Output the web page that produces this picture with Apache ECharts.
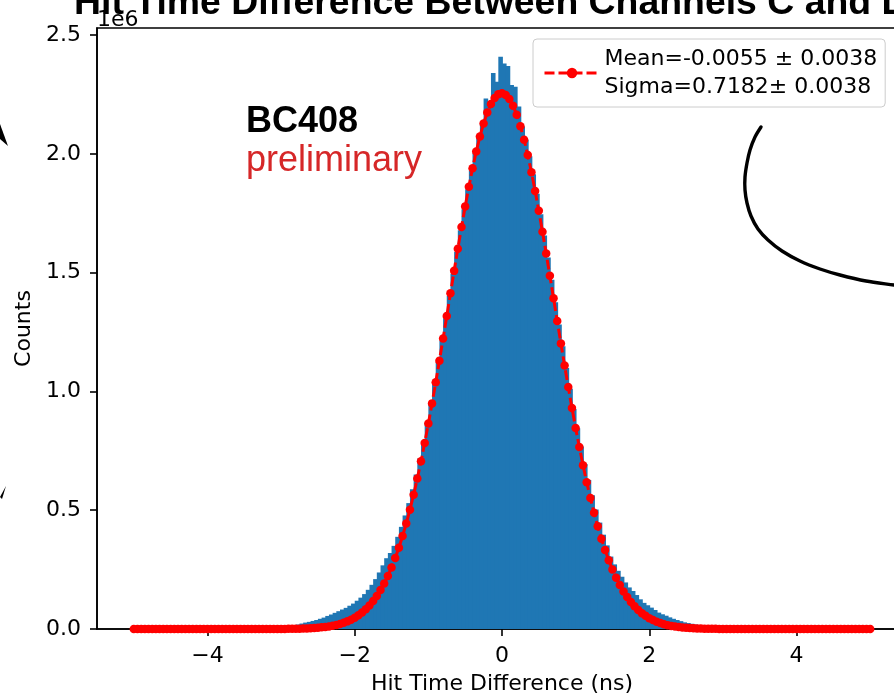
<!DOCTYPE html>
<html>
<head>
<meta charset="utf-8">
<script src="https://cdn.jsdelivr.net/npm/echarts@6/dist/echarts.min.js"></script>
<style>html,body{margin:0;padding:0;background:#fff;overflow:hidden}#c{width:920px;height:696px}</style>
</head>
<body>
<div id="c"></div>
<script>
// ---- data (counts in units of 1e6) ----
const titleText = 'Hit Time Difference Between Channels C and D';
const xAxisTitle = 'Hit Time Difference (ns)';
const yAxisTitle = 'Counts';
const offsetText = '1e6';
const labelMain = 'BC408';
const labelSub = 'preliminary';
const legendLines = ['Mean=-0.0055 \u00b1 0.0038', 'Sigma=0.7182\u00b1 0.0038'];
const xTicks = [-4, -2, 0, 2, 4];
const yTicks = [0, 0.5, 1, 1.5, 2, 2.5];

// histogram: bins of width 0.05 starting at -3.5
const histStart = -3.5;
const binWidth = 0.05;
const histCounts = [
  0.001,0.001,0.001,0.002,0.002,0.002,0.003,0.003,0.004,0.005,
  0.006,0.008,0.011,0.015,0.019,0.023,0.027,0.030,0.034,0.038,
  0.043,0.048,0.055,0.061,0.068,0.075,0.082,0.089,0.098,0.107,
  0.119,0.132,0.147,0.165,0.186,0.210,0.238,0.268,0.298,0.320,
  0.350,0.388,0.430,0.478,0.530,0.588,0.650,0.718,0.790,0.868,
  0.950,1.035,1.124,1.215,1.308,1.402,1.495,1.588,1.679,1.767,
  1.851,1.930,2.004,2.072,2.131,2.233,2.205,2.341,2.304,2.409,
  2.381,2.370,2.290,2.283,2.200,2.115,2.060,1.990,1.914,1.832,
  1.746,1.656,1.564,1.470,1.376,1.282,1.190,1.099,1.011,0.926,
  0.845,0.768,0.695,0.627,0.563,0.503,0.448,0.397,0.352,0.305,
  0.272,0.245,0.220,0.196,0.175,0.160,0.143,0.125,0.110,0.100,
  0.090,0.080,0.069,0.062,0.056,0.049,0.043,0.038,0.033,0.028,
  0.025,0.022,0.019,0.017,0.015,0.013,0.011,0.009,0.007,0.006,
  0.005,0.004,0.003,0.003,0.002,0.002,0.002,0.001,0.001,0.001
];

// gaussian fit samples from -5 to 5, step 0.05
const fitStart = -5;
const fitStep = 0.05;
const fitValues = [
  0,0,0,0,0,0,0,0,0,0,0,0,0,0,0,0,0,0,0,0,0,0,0,0,0,0,0,0,0,0,0,0,0,0,0,0,
  0.0001,0.0001,0.0002,0.0003,0.0004,0.0005,0.0006,0.0009,0.0012,0.0015,
  0.0020,0.0026,0.0033,0.0042,0.0054,0.0069,0.0087,0.0109,0.0137,0.0171,
  0.0212,0.0261,0.0321,0.0388,0.0477,0.0577,0.0695,0.0833,0.0994,0.1180,
  0.1394,0.1639,0.1918,0.2232,0.2588,0.2984,0.3424,0.3910,0.4443,0.5025,
  0.5656,0.6335,0.7061,0.7832,0.8646,0.9498,1.0383,1.1296,1.2230,1.3177,
  1.4129,1.5076,1.6009,1.6918,1.7791,1.8620,1.9392,2.0100,2.0732,2.1280,
  2.1738,2.2098,2.2356,2.2507,
  2.2549,
  2.2483,2.2308,2.2028,2.1646,2.1167,2.0599,1.9950,1.9228,1.8442,1.7603,
  1.6720,1.5806,1.4869,1.3920,1.2968,1.2023,1.1093,1.0185,0.9307,0.8464,
  0.7658,0.6897,0.6181,0.5513,0.4893,0.4322,0.3799,0.3323,0.2893,0.2506,
  0.2160,0.1854,0.1583,0.1345,0.1137,0.0957,0.0801,0.0668,0.0554,0.0457,
  0.0375,0.0307,0.0250,0.0202,0.0163,0.0131,0.0104,0.0083,0.0065,0.0051,
  0.0040,0.0031,0.0024,0.0019,0.0014,0.0011,0.0008,0.0006,0.0004,0.0003,
  0.0002,0.0002,0.0001,0.0001,
  0,0,0,0,0,0,0,0,0,0,0,0,0,0,0,0,0,0,0,0,0,0,0,0,0,0,0,0,0,0,0,0,0,0,0,0
];

// ---- build ----
const histData = histCounts.map((c, i) => [
  +(histStart + i * binWidth).toFixed(3),
  +(histStart + (i + 1) * binWidth).toFixed(3),
  c
]);
const fitData = fitValues.map((v, i) => [+(fitStart + i * fitStep).toFixed(3), v]);
const fitName = legendLines.join('\n');
const FONT = 'DejaVu Sans';
const fmtTick = v => (v < 0 ? '\u2212' + Math.abs(v) : String(v));

const chart = echarts.init(document.getElementById('c'), null, {renderer: 'canvas'});
chart.setOption({
  animation: false,
  backgroundColor: '#ffffff',
  title: {
    text: titleText,
    left: 74,
    top: -15,
    padding: 0,
    textStyle: {fontFamily: 'Liberation Sans', fontWeight: 'bold', fontSize: 37.4, color: '#000'}
  },
  grid: {
    left: 97, top: 28, right: 13, bottom: 67,
    show: true, borderColor: '#000', borderWidth: 1.6, backgroundColor: 'transparent',
    containLabel: false,
    outerBoundsMode: 'none'
  },
  legend: {
    data: [fitName],
    left: 533, top: 39,
    orient: 'vertical',
    padding: [6, 8, 6, 10],
    itemWidth: 55, itemHeight: 13,
    backgroundColor: 'rgba(255,255,255,0.85)',
    borderColor: '#cccccc', borderWidth: 1, borderRadius: 4,
    lineStyle: {width: 3},
    textStyle: {fontFamily: FONT, fontSize: 22, lineHeight: 28, color: '#000'}
  },
  xAxis: {
    type: 'value', min: -5.5, max: 5.5,
    name: xAxisTitle, nameLocation: 'middle', nameGap: 44,
    nameTextStyle: {fontFamily: FONT, fontSize: 22, color: '#000'},
    axisLine: {show: true, onZero: false, lineStyle: {color: '#000', width: 1.6}},
    axisTick: {show: true, length: 7, inside: false, customValues: xTicks, lineStyle: {color: '#000', width: 1.6}},
    axisLabel: {customValues: xTicks, margin: 16, fontFamily: FONT, fontSize: 22, color: '#000', formatter: fmtTick},
    splitLine: {show: false}
  },
  yAxis: {
    type: 'value', min: 0, max: 2.53,
    name: yAxisTitle, nameLocation: 'middle', nameGap: 61,
    nameTextStyle: {fontFamily: FONT, fontSize: 22, color: '#000'},
    axisLine: {show: true, onZero: false, lineStyle: {color: '#000', width: 1.6}},
    axisTick: {show: true, length: 7, inside: false, customValues: yTicks, lineStyle: {color: '#000', width: 1.6}},
    axisLabel: {customValues: yTicks, margin: 16, fontFamily: FONT, fontSize: 22, color: '#000', formatter: v => v.toFixed(1)},
    splitLine: {show: false}
  },
  series: [
    {
      type: 'custom',
      name: 'hist',
      data: histData,
      encode: {x: [0, 1], y: 2},
      clip: true,
      z: 2,
      renderItem: function (params, api) {
        const x0 = api.value(0), x1 = api.value(1), y = api.value(2);
        const p0 = api.coord([x0, y]);
        const p1 = api.coord([x1, 0]);
        return {
          type: 'rect',
          shape: {x: p0[0], y: p0[1], width: p1[0] - p0[0] + 0.9, height: p1[1] - p0[1]},
          style: {fill: '#1f77b4'}
        };
      }
    },
    {
      type: 'line',
      name: fitName,
      data: fitData,
      z: 5,
      showSymbol: true,
      showAllSymbol: true,
      symbol: 'circle',
      symbolSize: 8.5,
      itemStyle: {color: '#ff0000', borderWidth: 0},
      lineStyle: {color: '#ff0000', width: 3, type: [10, 4]},
      clip: false
    }
  ],
  graphic: [
    {type: 'text', left: 97, top: 9, z: 10,
     style: {text: offsetText, font: '22px "DejaVu Sans"', fill: '#000'}},
    {type: 'text', left: 246, top: 104, z: 10,
     style: {text: labelMain, font: 'bold 36px "Liberation Sans"', fill: '#000'}},
    {type: 'text', left: 246, top: 143, z: 10,
     style: {text: labelSub, font: '36px "Liberation Sans"', fill: '#d62728'}},
    {type: 'polyline', z: 10,
     shape: {points: [[761,127],[755,137],[750,150],[747,163],[745,177],[745,190],[747,203],[751,216],[758,229],[768,240],[782,251],[800,261],[820,269],[840,275],[866,281],[894,285],[915,288]], smooth: 0.3},
     style: {stroke: '#000', lineWidth: 3.4, fill: null, lineCap: 'round'}},
    {type: 'polygon', z: 10, shape: {points: [[0,124],[8,146],[0,139]]}, style: {fill: '#000'}},
    {type: 'polygon', z: 10, shape: {points: [[0,497],[6,486],[2,499]]}, style: {fill: '#000'}}
  ]
});
</script>
</body>
</html>
